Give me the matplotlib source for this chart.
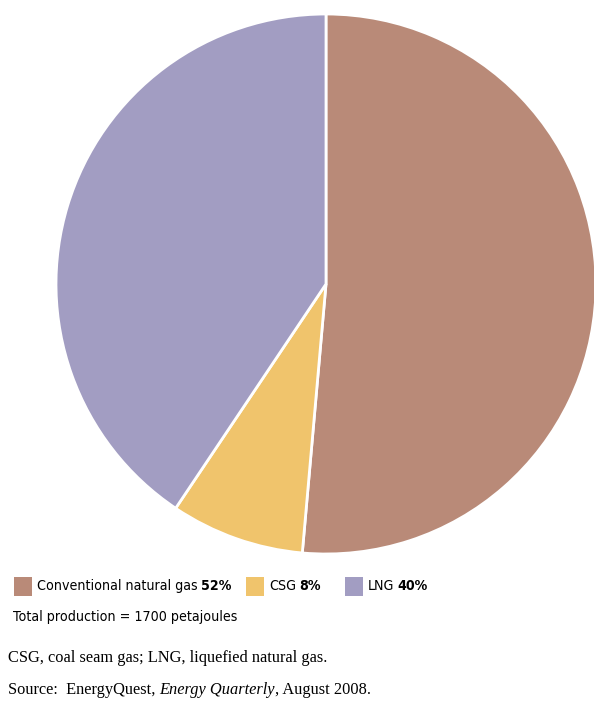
import matplotlib
matplotlib.use("Agg")
import matplotlib.pyplot as plt

labels = ["Conventional natural gas", "CSG", "LNG"]
shares = [51.4, 8.0, 40.6]          # slice sizes as drawn
pct_labels = ["52%", "8%", "40%"]   # printed in the legend
colours = ["#B98A78", "#F0C46C", "#A29DC2"]
total_pj = 1700

sans = dict(family="DejaVu Sans", fontstretch="condensed", fontsize=10.2)
serif = dict(family=["Liberation Serif", "DejaVu Serif"], fontsize=11.75)

fig = plt.figure(figsize=(5.94, 7.01), dpi=100)
ax = fig.add_axes([0, 0, 1, 1])

ax.pie(shares, colors=colours, startangle=90, counterclock=False,
       center=(326, 701 - 284), radius=270, frame=True,
       wedgeprops=dict(edgecolor="white", linewidth=2))
ax.set_xlim(0, 594)
ax.set_ylim(0, 701)
ax.set_aspect("equal")
ax.axis("off")

renderer = fig.canvas.get_renderer()


def put_after(t, gap, s, **kw):
    # place text s right after text artist t
    bb = t.get_window_extent(renderer).transformed(ax.transData.inverted())
    return ax.text(bb.x1 + gap, t.get_position()[1], s, va="center", ha="left", **kw)


# legend row
sq_x = [14, 246, 345]
ly = 701 - 586
for i in range(len(labels)):
    ax.add_patch(plt.Rectangle((sq_x[i], ly - 9.5), 18, 19, color=colours[i], lw=0))
    t = ax.text(sq_x[i] + 23, ly, labels[i], va="center", ha="left", **sans)
    put_after(t, 3, pct_labels[i], fontweight="bold", **sans)

ax.text(13, 701 - 617, f"Total production = {total_pj} petajoules",
        va="center", ha="left", **sans)

ax.text(8, 701 - 658, "CSG, coal seam gas; LNG, liquefied natural gas.",
        va="center", ha="left", **serif)
t = ax.text(8, 701 - 690, "Source:  EnergyQuest,", va="center", ha="left", **serif)
t = put_after(t, 4, "Energy Quarterly", fontstyle="italic", **serif)
put_after(t, 0, ", August 2008.", **serif)

fig.savefig("out.png", dpi=100)
